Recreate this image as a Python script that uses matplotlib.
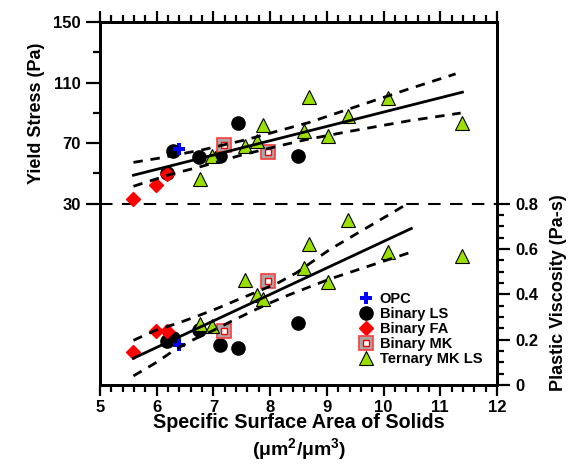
import numpy as np
import matplotlib
matplotlib.use("Agg")
import matplotlib.pyplot as plt
from matplotlib.ticker import FixedLocator, MultipleLocator
from matplotlib.lines import Line2D
from matplotlib.legend_handler import HandlerTuple

plt.rcParams['font.family'] = ['Liberation Sans', 'DejaVu Sans']
plt.rcParams['font.weight'] = 'bold'
plt.rcParams['mathtext.fontset'] = 'custom'
plt.rcParams['mathtext.rm'] = 'Liberation Sans:bold'
plt.rcParams['mathtext.it'] = 'Liberation Sans:bold'
plt.rcParams['mathtext.bf'] = 'Liberation Sans:bold'
plt.rcParams['mathtext.default'] = 'rm'

# ---------------- data ----------------
opc_x = [6.39]
opc_ys = [66.0]
opc_pv = [0.177]

ls_x = [6.18, 6.28, 6.74, 7.11, 7.43, 8.49]
ls_ys = [50.0, 64.9, 60.5, 61.2, 83.4, 61.7]
ls_pv = [0.194, 0.206, 0.243, 0.175, 0.162, 0.275]

fa_x = [5.59, 5.985, 6.19]
fa_ys = [33.3, 42.3, 49.8]
fa_pv = [0.1445, 0.240, 0.240]

mk_x = [7.18, 7.97]
mk_ys = [68.5, 64.3]
mk_pv = [0.236, 0.458]

tern_x = [6.76, 6.97, 7.55, 7.76, 7.88, 8.60, 8.68, 9.02, 9.38, 10.08, 11.39]
tern_ys = [46.0, 61.4, 68.3, 71.6, 82.0, 78.2, 100.7, 74.8, 88.0, 99.7, 83.2]
tern_pv = [0.270, 0.262, 0.461, 0.398, 0.380, 0.516, 0.622, 0.452, 0.729, 0.585, 0.567]

# yield stress regression and confidence bands
ys_fit_x = [5.59, 11.39]
ys_fit = [48.7, 103.6]
ys_up_x = [5.59, 6.06, 6.82, 7.58, 8.28, 8.69, 9.40, 10.45, 11.27]
ys_up = [57.2, 60.1, 65.6, 72.2, 79.4, 83.6, 92.6, 105.8, 115.7]
ys_lo_x = [5.59, 6.23, 6.76, 7.52, 8.17, 8.63, 9.40, 10.45, 11.36]
ys_lo = [41.4, 49.1, 54.2, 62.3, 68.2, 72.2, 77.7, 84.7, 89.8]

# plastic viscosity regression and confidence bands
pv_fit_x = [5.59, 10.49]
pv_fit = [0.118, 0.69]
pv_up_x = [5.59, 6.0, 6.38, 6.73, 7.08, 7.43, 7.78, 8.14, 8.46, 9.05, 9.75, 10.45]
pv_up = [0.197, 0.243, 0.273, 0.305, 0.339, 0.376, 0.412, 0.450, 0.494, 0.597, 0.700, 0.803]
pv_lo_x = [5.59, 5.97, 6.32, 6.64, 6.96, 7.31, 7.64, 7.99, 8.34, 9.05, 9.81, 10.48]
pv_lo = [0.040, 0.096, 0.155, 0.199, 0.236, 0.280, 0.320, 0.361, 0.398, 0.467, 0.530, 0.585]

divider_ys = 30

x_ticks = [5, 6, 7, 8, 9, 10, 11, 12]
ys_ticks = [30, 70, 110, 150]
ys_minor = [50, 90, 130]
pv_ticks = [0, 0.2, 0.4, 0.6, 0.8]
pv_tick_labels = ['0', '0.2', '0.4', '0.6', '0.8']

# ---------------- styling ----------------
W, H = 574, 472
fig = plt.figure(figsize=(W / 100, H / 100), dpi=100)
L, R, T, B = 100, 497, 22, 385
ax = fig.add_axes([L / W, (H - B) / H, (R - L) / W, (B - T) / H])
ax2 = ax.twinx()

green = '#99e000'
mk_face = '#a8a8a8'
mk_edge = '#ff3b3b'

def draw_markers(a, yo, yl, yf, ym, yt):
    a.plot(ls_x, yl, 'o', ms=9.5, color='black', zorder=3)
    a.plot(fa_x, yf, 'D', ms=7, color='red', mec='red', zorder=3)
    a.plot(opc_x, yo, 'P', ms=9, color='blue', mec='blue', mew=0, zorder=3)
    a.plot(mk_x, ym, 's', ms=9.5, mfc=mk_face, mec=mk_edge, mew=1.2, zorder=3)
    a.plot(mk_x, ym, 's', ms=4.4, mfc='white', mec='red', mew=1.0, zorder=3)
    a.plot(tern_x, yt, '^', ms=9.5, mfc=green, mec='black', mew=0.8, zorder=3)

draw_markers(ax, opc_ys, ls_ys, fa_ys, mk_ys, tern_ys)
draw_markers(ax2, opc_pv, ls_pv, fa_pv, mk_pv, tern_pv)

lw = 2.0
dash = (3.4, 2.8)
ax.plot(ys_fit_x, ys_fit, '-', color='black', lw=lw, zorder=4)
ax.plot(ys_up_x, ys_up, '--', color='black', lw=lw, dashes=dash, zorder=4)
ax.plot(ys_lo_x, ys_lo, '--', color='black', lw=lw, dashes=dash, zorder=4)
ax2.plot(pv_fit_x, pv_fit, '-', color='black', lw=lw, zorder=4)
ax2.plot(pv_up_x, pv_up, '--', color='black', lw=lw, dashes=dash, zorder=4)
ax2.plot(pv_lo_x, pv_lo, '--', color='black', lw=lw, dashes=dash, zorder=4)

ax.axhline(divider_ys, color='black', lw=1.5, dashes=(6.0, 4.5), zorder=2)

ax.set_xlim(5, 12)
ax.set_ylim(-90, 150)
ax2.set_ylim(0, 1.6)

ax.set_xticks(x_ticks)
ax.set_xticklabels([str(v) for v in x_ticks])
ax.xaxis.set_minor_locator(MultipleLocator(0.2))
ax.set_yticks(ys_ticks)
ax.set_yticklabels([str(v) for v in ys_ticks])
ax.yaxis.set_minor_locator(FixedLocator(ys_minor))
ax2.set_yticks(pv_ticks)
ax2.set_yticklabels(pv_tick_labels)
ax2.yaxis.set_minor_locator(FixedLocator(list(np.arange(0, 0.801, 0.05))))

ax.tick_params(axis='x', which='both', direction='out', top=True, bottom=True,
               labelsize=12, pad=2.5, width=1.6)
ax.tick_params(axis='x', which='major', length=8)
ax.tick_params(axis='x', which='minor', length=5)
ax.tick_params(axis='y', which='both', direction='out', labelsize=12, pad=4, width=1.6)
ax.tick_params(axis='y', which='major', length=10)
ax.tick_params(axis='y', which='minor', length=5)
ax2.tick_params(axis='y', which='both', direction='out', labelsize=12, pad=4, width=1.6)
ax2.tick_params(axis='y', which='major', length=9.5)
ax2.tick_params(axis='y', which='minor', length=5)

for a in (ax, ax2):
    for s in a.spines.values():
        s.set_linewidth(2.0)

ax.set_ylabel('Yield Stress (Pa)', fontsize=13, fontweight='bold')
ax.yaxis.set_label_coords((45 - L) / (R - L), (B - 113) / (B - T))
ax2.set_ylabel('Plastic Viscosity (Pa-s)', fontsize=13, fontweight='bold')
ax2.yaxis.set_label_coords((550 - L) / (R - L), (B - 293) / (B - T))

fig.text(299 / W, 1 - 427.5 / H, 'Specific Surface Area of Solids', ha='center', va='baseline',
         fontsize=14.2, fontweight='bold')
fig.text(299 / W, 1 - 449 / H, '(μm$^{2}$/μm$^{3}$)', ha='center', va='center',
         fontsize=14, fontweight='bold')

h_opc = Line2D([], [], ls='none', marker='P', ms=9, color='blue', mew=0)
h_ls = Line2D([], [], ls='none', marker='o', ms=9.5, color='black')
h_fa = Line2D([], [], ls='none', marker='D', ms=7, color='red')
h_mk1 = Line2D([], [], ls='none', marker='s', ms=9.5, mfc=mk_face, mec=mk_edge, mew=1.2)
h_mk2 = Line2D([], [], ls='none', marker='s', ms=4.4, mfc='white', mec='red', mew=1.0)
h_t = Line2D([], [], ls='none', marker='^', ms=9.5, mfc=green, mec='black', mew=0.8)
leg = ax2.legend([h_opc, h_ls, h_fa, (h_mk1, h_mk2), h_t],
                 ['OPC', 'Binary LS', 'Binary FA', 'Binary MK', 'Ternary MK LS'],
                 handler_map={tuple: HandlerTuple(ndivide=1)},
                 loc='upper left', bbox_to_anchor=(358.5 / W, 1 - 292 / H),
                 bbox_transform=fig.transFigure, frameon=False,
                 prop={'size': 10.5, 'weight': 'bold'},
                 handlelength=1.0, handletextpad=0.45, borderpad=0, borderaxespad=0,
                 labelspacing=0.07)

fig.savefig('out.png', dpi=100)
